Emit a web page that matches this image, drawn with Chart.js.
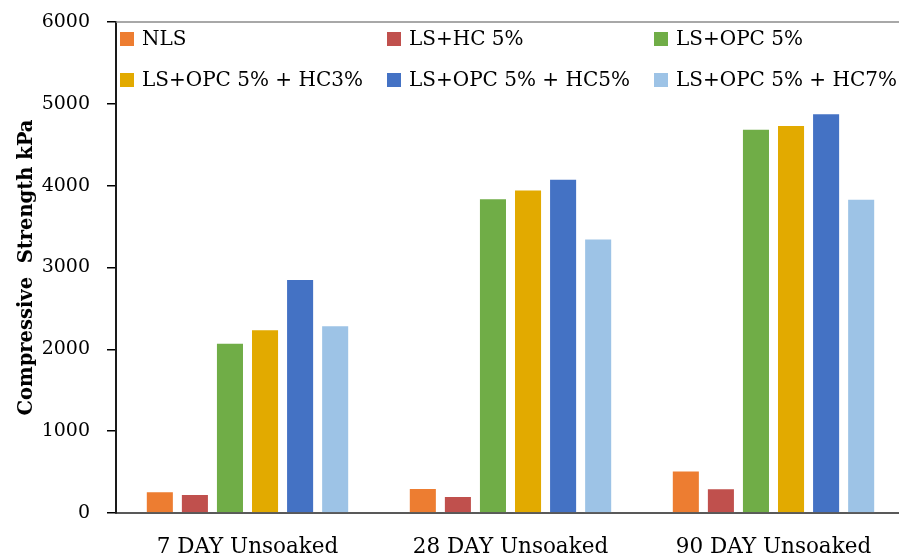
<!DOCTYPE html>
<html><head><meta charset="utf-8">
<script src="https://cdn.jsdelivr.net/npm/chart.js@4.4.1/dist/chart.umd.min.js"></script>
<style>html,body{margin:0;padding:0;background:#fff;overflow:hidden;width:899px;height:559px}</style>
</head><body>
<canvas id="c" width="905" height="559" style="display:block;width:905px;height:559px"></canvas>
<script>
// ---- data ----
const categories = ['7 DAY Unsoaked', '28 DAY Unsoaked', '90 DAY Unsoaked'];
const seriesNames = ['NLS', 'LS+HC 5%', 'LS+OPC 5%', 'LS+OPC 5% + HC3%', 'LS+OPC 5% + HC5%', 'LS+OPC 5% + HC7%'];
const nls       = [265, 305, 518];
const lsHc5     = [233, 208, 302];
const lsOpc5    = [2080, 3847, 4696];
const lsOpc5Hc3 = [2244, 3953, 4741];
const lsOpc5Hc5 = [2860, 4084, 4884];
const lsOpc5Hc7 = [2293, 3354, 3840];
const yTickValues = [0, 1000, 2000, 3000, 4000, 5000, 6000];
const yTitle = 'Compressive  Strength kPa';

// ---- styles ----
const seriesColors = ['#ED7D31', '#C0504D', '#70AD47', '#E2AA00', '#4472C4', '#9DC3E6'];
const seriesValues = [nls, lsHc5, lsOpc5, lsOpc5Hc3, lsOpc5Hc5, lsOpc5Hc7];
const FONT = "'DejaVu Serif', serif";

const datasets = seriesNames.map((name, i) => ({
  label: name,
  data: seriesValues[i],
  backgroundColor: seriesColors[i],
  borderColor: 'rgba(255,255,255,0.55)',
  borderWidth: 1,
  categoryPercentage: 0.8,
  barPercentage: 0.8
}));

const plotFrame = {
  id: 'plotFrame',
  beforeDatasetsDraw(chart) {
    const {ctx, chartArea: a} = chart;
    ctx.save();
    ctx.strokeStyle = '#8c8c8c';
    ctx.lineWidth = 1.5;
    ctx.beginPath();
    ctx.moveTo(a.left, a.top);
    ctx.lineTo(a.right, a.top);
    ctx.lineTo(a.right, a.bottom);
    ctx.stroke();
    ctx.restore();
  }
};

const gridLegend = {
  id: 'gridLegend',
  afterDraw(chart) {
    const ctx = chart.ctx;
    const a = chart.chartArea;
    const colX = [a.left + 4, a.left + 271, a.left + 538];
    const rowY = [a.top + 10, a.top + 51];
    ctx.save();
    ctx.font = '20px ' + FONT;
    ctx.textBaseline = 'middle';
    ctx.textAlign = 'left';
    chart.data.datasets.forEach((ds, i) => {
      const x = colX[i % 3], y = rowY[Math.floor(i / 3)];
      ctx.fillStyle = ds.backgroundColor;
      ctx.fillRect(x, y, 14, 14);
      ctx.fillStyle = '#000';
      ctx.fillText(ds.label, x + 22, y + 8);
    });
    ctx.restore();
  }
};

new Chart(document.getElementById('c'), {
  type: 'bar',
  data: { labels: categories, datasets },
  options: {
    responsive: false,
    animation: false,
    devicePixelRatio: 1,
    layout: { padding: { top: 22, left: 0, right: 0, bottom: 0 } },
    plugins: { legend: { display: false }, tooltip: { enabled: false } },
    scales: {
      x: {
        grid: { display: false, drawTicks: false },
        border: { display: true, color: '#595959', width: 2 },
        ticks: { color: '#000', font: { family: FONT, size: 21.5 }, padding: 22, maxRotation: 0 },
        afterFit(s) { s.height = 46; s.paddingLeft = 0; s.paddingRight = 0; }
      },
      y: {
        min: 0, max: 6000,
        afterBuildTicks(s) { s.ticks = yTickValues.map(v => ({ value: v })); },
        grid: { display: true, drawOnChartArea: false, drawTicks: true, tickLength: 9, color: '#000', lineWidth: 1.5 },
        border: { display: true, color: '#1a1a1a', width: 2 },
        ticks: { color: '#000', font: { family: FONT, size: 19 }, padding: 17, callback: v => String(v) },
        title: { display: true, text: yTitle, color: '#000', font: { family: FONT, size: 19.5, weight: 'bold' }, padding: { top: 15, bottom: 0 } },
        afterFit(s) { s.width = 116; s.paddingTop = 0; s.paddingBottom = 0; }
      }
    }
  },
  plugins: [plotFrame, gridLegend]
});
</script>
</body></html>
